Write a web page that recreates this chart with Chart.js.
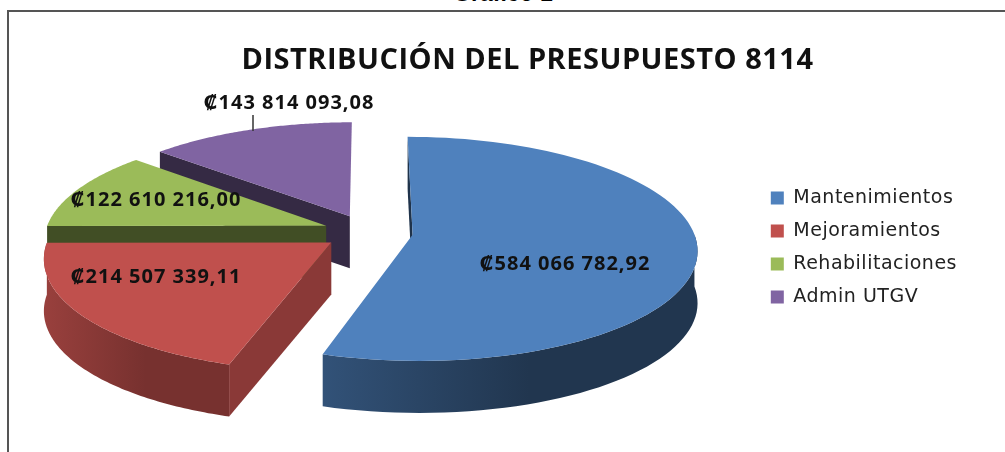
<!DOCTYPE html>
<html>
<head>
<meta charset="utf-8">
<script src="https://cdn.jsdelivr.net/npm/chart.js@4"></script>
<style>
  html, body { margin: 0; background: #fff; overflow: hidden; }
  #page { position: relative; width: 1005px; height: 452px; overflow: hidden; }
  #caption { position: absolute; left: 0; width: 1006px; top: -20px; text-align: center;
             font: bold 23px "Liberation Sans", sans-serif; color: #000; }
  #frame { position: absolute; left: 7px; top: 10px; width: 1010px; height: 460px;
           border: 2px solid #555; box-sizing: border-box; }
  canvas { position: absolute; left: 0; top: 0; }
</style>
</head>
<body>
<div id="page">
  <div id="caption">Gráfico 1</div>
  <div id="frame"></div>
  <canvas id="pie" width="1005" height="452"></canvas>
</div>
<script>
// ----- Chart data -----
const categories = ["Mantenimientos", "Mejoramientos", "Rehabilitaciones", "Admin UTGV"];
const budget = [584066782.92, 214507339.11, 122610216.00, 143814093.08];
const valueLabels = ["₡584 066 782,92", "₡214 507 339,11", "₡122 610 216,00", "₡143 814 093,08"];
const sliceColors = ["#4f81bd", "#c0504d", "#9bbb59", "#8064a2"];
const chartTitle = "DISTRIBUCIÓN DEL PRESUPUESTO 8114";

// ----- 3D look of the pie -----
const view = { cx: 368, cy: 232, radius: 281, blast: 45, tilt: 0.39, persp: 0.00045, depth: 52 };
const paintOrder = [3, 2, 1, 0]; // back slices first
const labelSpots = [[565, 264], [156, 277], [156, 200], [289, 103]];
const edgeShade = [0.4, 0.72, 0.42, 0.42];
const rimShade = [[0.64, 0.42], [0.8, 0.62], [0.42, 0.42], [0.42, 0.42]];

function project(x, y, drop) {
  const s = 1 / (1 - view.persp * y);
  return { x: view.cx + x * s, y: view.cy + view.tilt * y * s + (drop || 0) };
}

function shade(hex, f) {
  const n = parseInt(hex.slice(1), 16);
  return `rgb(${(n >> 16) * f | 0},${((n >> 8) & 255) * f | 0},${(n & 255) * f | 0})`;
}

function poly(ctx, pts, fill) {
  ctx.beginPath();
  pts.forEach((p, i) => i ? ctx.lineTo(p.x, p.y) : ctx.moveTo(p.x, p.y));
  ctx.closePath();
  ctx.fillStyle = fill;
  ctx.fill();
}

function drawSlice(ctx, arc, i) {
  const color = sliceColors[i];
  const mid = (arc.startAngle + arc.endAngle) / 2;
  const ox = view.blast * Math.cos(mid), oy = view.blast * Math.sin(mid);
  const top = [], front = [];
  const steps = 90;
  for (let k = 0; k <= steps; k++) {
    const a = arc.startAngle + (arc.endAngle - arc.startAngle) * k / steps;
    const p = project(ox + view.radius * Math.cos(a), oy + view.radius * Math.sin(a));
    top.push(p);
    if (Math.sin(a) >= -0.01) front.push(p); // only the near side of the rim shows
  }
  const apex = project(ox, oy);
  const apexLow = project(ox, oy, view.depth);
  const drop = p => ({ x: p.x, y: p.y + view.depth });

  // flat wall of the straight edge that faces us
  poly(ctx, [apex, top[0], drop(top[0]), apexLow], shade(color, edgeShade[i]));

  // curved outer wall
  if (front.length > 1) {
    const xs = top.map(p => p.x);
    const grad = ctx.createLinearGradient(Math.min(...xs), 0, Math.max(...xs), 0);
    grad.addColorStop(0, shade(color, rimShade[i][0]));
    grad.addColorStop(0.55, shade(color, rimShade[i][1]));
    grad.addColorStop(1, shade(color, rimShade[i][1]));
    poly(ctx, front.concat(front.map(drop).reverse()), grad);
  }

  // top face
  poly(ctx, [apex].concat(top), color);
}

// Draws the library's arcs as a tilted, exploded pie
const pie3d = {
  id: "pie3d",
  beforeLayout(chart) {
    // the picture's text is stretched a little wider than these fonts
    chart.ctx.letterSpacing = "0.5px";
  },
  beforeDatasetsDraw(chart) {
    const arcs = chart.getDatasetMeta(0).data;
    paintOrder.forEach(i => drawSlice(chart.ctx, arcs[i], i));
    return false;
  },
  afterDraw(chart) {
    const ctx = chart.ctx;
    ctx.save();
    ctx.strokeStyle = "#333";
    ctx.lineWidth = 1.5;
    ctx.beginPath();
    ctx.moveTo(253, 115);
    ctx.lineTo(253, 131);
    ctx.stroke();
    ctx.fillStyle = "#111";
    ctx.font = 'bold 20px "Open Sans", "DejaVu Sans", sans-serif';
    ctx.letterSpacing = "1px";
    ctx.textAlign = "center";
    ctx.textBaseline = "middle";
    valueLabels.forEach((t, i) => ctx.fillText(t, labelSpots[i][0], labelSpots[i][1]));
    ctx.restore();
  }
};

new Chart(document.getElementById("pie").getContext("2d"), {
  type: "pie",
  data: {
    labels: categories,
    datasets: [{ data: budget, backgroundColor: sliceColors, borderWidth: 0 }]
  },
  plugins: [pie3d],
  options: {
    responsive: false,
    animation: false,
    layout: { padding: { top: 43, right: 38, left: 88, bottom: 0 } },
    plugins: {
      title: {
        display: true,
        text: chartTitle,
        color: "#111",
        font: { family: '"Open Sans", sans-serif', size: 29, weight: "bold" },
        padding: { top: 0, bottom: 0 }
      },
      legend: {
        position: "right",
        labels: {
          boxWidth: 13,
          boxHeight: 13,
          padding: 14,
          color: "#222",
          font: { family: '"DejaVu Sans", sans-serif', size: 19 }
        }
      },
      tooltip: { enabled: false }
    }
  }
});
</script>
</body>
</html>
